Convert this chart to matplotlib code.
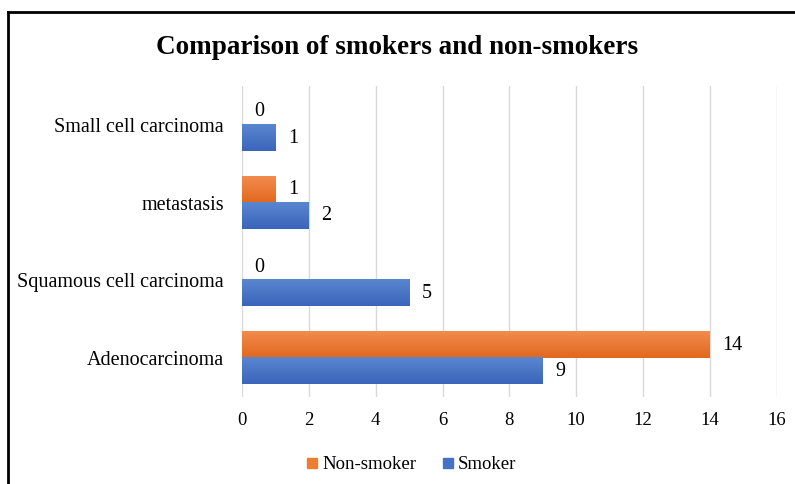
import matplotlib
matplotlib.use("Agg")
import matplotlib.pyplot as plt
from matplotlib.lines import Line2D
from matplotlib.colors import LinearSegmentedColormap
import numpy as np

categories = ["Adenocarcinoma", "Squamous cell carcinoma", "metastasis", "Small cell carcinoma"]
non_smoker = [14, 0, 1, 0]
smoker = [9, 5, 2, 1]
x_ticks = [0, 2, 4, 6, 8, 10, 12, 14, 16]

plt.rcParams['font.family'] = ['Liberation Serif', 'DejaVu Serif']

fig = plt.figure(figsize=(7.95, 4.84), dpi=100)
ax = fig.add_axes([0.3044, 0.1798, 0.977 - 0.3044, 0.822 - 0.1798])

y = np.arange(len(categories))
h = 0.335
orange = "#ED7D31"
blue = "#4472C4"
b1 = ax.barh(y + h / 2, non_smoker, height=h, color=orange, label="Non-smoker", zorder=3)
b2 = ax.barh(y - h / 2, smoker, height=h, color=blue, label="Smoker", zorder=3)

# subtle vertical gradient like the Office style
cm_o = LinearSegmentedColormap.from_list("o", ["#E2681E", "#F28B4E"])
cm_b = LinearSegmentedColormap.from_list("b", ["#3A65BB", "#5A86D0"])
grad = np.linspace(0, 1, 64).reshape(-1, 1)
for bars, cm in ((b1, cm_o), (b2, cm_b)):
    for bar in bars:
        w = bar.get_width()
        if w <= 0:
            continue
        y0 = bar.get_y()
        ax.imshow(grad, extent=(0, w, y0, y0 + bar.get_height()), origin="lower",
                  aspect="auto", cmap=cm, zorder=4, interpolation="bilinear")

for bars, vals in ((b1, non_smoker), (b2, smoker)):
    for bar, v in zip(bars, vals):
        ax.annotate(str(v), (bar.get_width(), bar.get_y() + bar.get_height() / 2),
                    xytext=(9, 0), textcoords="offset points", va="center", ha="left",
                    fontsize=14.5, color="#000000")

ax.set_xlim(0, 16)
ax.set_ylim(-0.5, 3.5)
ax.set_aspect("auto")
ax.set_xticks(x_ticks)
ax.set_xticklabels([str(t) for t in x_ticks], fontsize=13.5)
ax.set_yticks(y)
ax.set_yticklabels(categories, fontsize=14.5)
ax.tick_params(length=0)
ax.tick_params(axis='x', pad=11)
ax.tick_params(axis='y', pad=13)
ax.grid(axis='x', color="#D9D9D9", linewidth=1, zorder=0)
for s in ax.spines.values():
    s.set_visible(False)

fig.suptitle("Comparison of smokers and non-smokers", fontsize=19.5, fontweight="bold", y=0.927)

handles = [Line2D([], [], marker='s', linestyle='None', color=orange, markersize=7),
           Line2D([], [], marker='s', linestyle='None', color=blue, markersize=7)]
fig.legend(handles, ["Non-smoker", "Smoker"], loc="center", bbox_to_anchor=(0.515, 0.04),
           ncol=2, frameon=False, fontsize=13.5, handletextpad=0.05, columnspacing=1.2,
           handlelength=1)

fig.add_artist(Line2D([8 / 795, 8 / 795], [0, 1 - 12 / 484], transform=fig.transFigure, color="black", linewidth=2))
fig.add_artist(Line2D([8 / 795, 1], [1 - 12 / 484, 1 - 12 / 484], transform=fig.transFigure, color="black", linewidth=2))

fig.savefig("out.png", dpi=100)
